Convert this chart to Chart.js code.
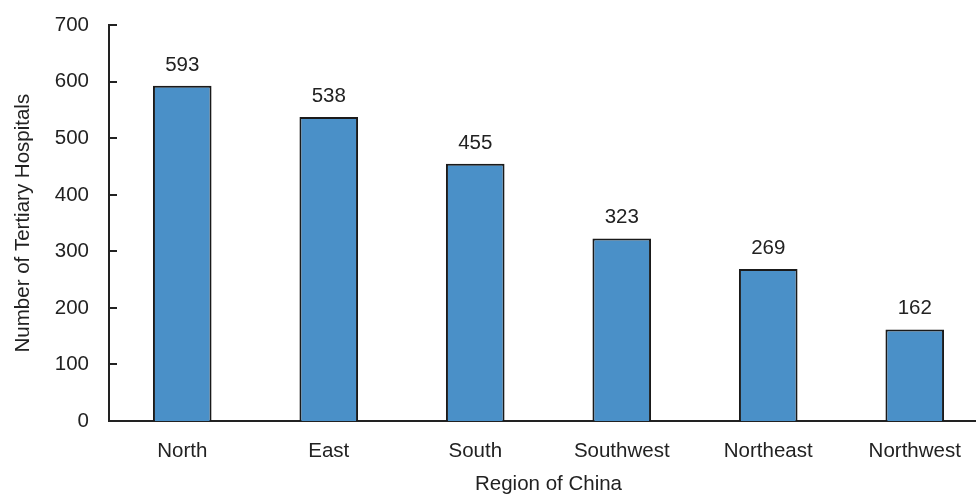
<!DOCTYPE html>
<html><head><meta charset="utf-8">
<script src="https://cdn.jsdelivr.net/npm/chart.js@4/dist/chart.umd.min.js"></script>
<style>html,body{margin:0;padding:0;overflow:hidden;background:#fff;height:494px}#wrap{width:988px;height:504px;position:absolute;left:0;top:-7px}</style>
</head><body><div id="wrap"><canvas id="c"></canvas></div>
<script>
const categories = ['North','East','South','Southwest','Northeast','Northwest'];
const hospitals = [593, 538, 455, 323, 269, 162];
const yTicks = [0,100,200,300,400,500,600,700];
const yTitle = 'Number of Tertiary Hospitals';
const xTitle = 'Region of China';

const FONT = "'Liberation Sans', Arial, Helvetica, sans-serif";
const FS = 20.5;

const plugin = {
  id: 'extras',
  afterDatasetsDraw(chart) {
    const ctx = chart.ctx;
    const meta = chart.getDatasetMeta(0);
    ctx.save();
    ctx.fillStyle = '#222';
    ctx.font = FS + 'px ' + FONT;
    ctx.textAlign = 'center';
    ctx.textBaseline = 'alphabetic';
    meta.data.forEach((bar, i) => {
      ctx.fillText(String(hospitals[i]), bar.x, bar.y - 15);
    });
    const ys = chart.scales.y;
    const x0 = chart.chartArea.left;
    ctx.strokeStyle = '#222';
    ctx.lineWidth = 2;
    yTicks.forEach(v => {
      const py = Math.round(ys.getPixelForValue(v));
      ctx.beginPath();
      ctx.moveTo(x0, py);
      ctx.lineTo(x0 + 8, py);
      ctx.stroke();
    });
    ctx.restore();
  }
};

new Chart(document.getElementById('c'), {
  type: 'bar',
  data: {
    labels: categories,
    datasets: [{
      data: hospitals,
      backgroundColor: '#4a90c8',
      borderColor: '#1a1a1a',
      borderWidth: 2,
      borderSkipped: 'bottom',
      barPercentage: 0.4,
      categoryPercentage: 1.0
    }]
  },
  options: {
    responsive: true,
    maintainAspectRatio: false,
    animation: false,
    layout: { padding: { top: 5, right: 0, left: 0, bottom: 0 } },
    plugins: { legend: { display: false }, tooltip: { enabled: false } },
    scales: {
      x: {
        grid: { display: false, drawTicks: false },
        border: { display: true, color: '#222', width: 2 },
        ticks: { color: '#222', font: { size: FS, family: FONT }, padding: 18 },
        title: { display: true, text: xTitle, color: '#222', font: { size: FS, family: FONT }, padding: { top: 12, bottom: 0 } },
        afterFit(s) { s.height = 76; }
      },
      y: {
        min: 0, max: 700,
        afterBuildTicks(s) { s.ticks = yTicks.map(v => ({ value: v })); },
        grid: { display: false, drawTicks: false },
        border: { display: true, color: '#222', width: 2 },
        ticks: { color: '#222', font: { size: FS, family: FONT }, padding: 20 },
        title: { display: true, text: yTitle, color: '#222', font: { size: FS, family: FONT }, padding: { top: 11, bottom: 4 } },
        afterFit(s) { s.width = 109; }
      }
    }
  },
  plugins: [plugin]
});
</script></body></html>
